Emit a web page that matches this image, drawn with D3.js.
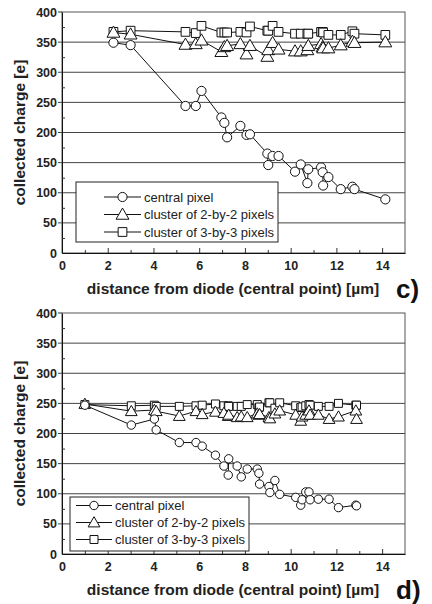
<!DOCTYPE html>
<html>
<head>
<meta charset="utf-8">
<script src="https://cdn.jsdelivr.net/npm/d3@7"></script>
<style>
  body { margin: 0; background: #fff; }
  svg { display: block; font-family: "Liberation Sans", Arial, sans-serif; }
</style>
</head>
<body>
<div id="chart"></div>
<script>
// panel c)
const distC = [2.25, 3.0, 5.4, 5.85, 6.1, 6.97, 7.1, 7.22, 7.8, 8.07, 8.22, 8.98, 9.02, 9.21, 9.47, 10.19, 10.44, 10.73, 10.77, 11.33, 11.4, 11.42, 11.65, 12.19, 12.7, 12.79, 14.14];
const centralC = [349, 345, 244, 244, 269, 225, 216, 192, 211, 196, 197, 165, 146, 161, 161, 135, 147, 116, 139, 142, 134, 112, 126, 106, 110, 106, 89];
const cluster2C = [366, 363, 346, 347, 353, 334, 342, 344, 347, 330, 344, 326, 337, 349, 338, 335, 335, 337, 344, 347, 342, 340, 340, 345, 351, 349, 350];
const cluster3C = [367, 369, 367, 365, 377, 366, 366, 366, 367, 366, 376, 369, 369, 377, 367, 364, 364, 364, 364, 367, 367, 366, 362, 362, 368, 364, 362];

// panel d)
const distD = [1.0, 3.03, 4.04, 4.12, 5.13, 5.86, 6.13, 6.71, 7.08, 7.27, 7.29, 7.66, 7.84, 8.1, 8.54, 8.61, 8.64, 9.05, 9.09, 9.31, 9.52, 10.22, 10.44, 10.5, 10.66, 10.8, 10.85, 11.21, 11.68, 12.09, 12.85, 12.88];
const centralD = [247, 214, 224, 206, 185, 185, 179, 164, 146, 131, 158, 146, 128, 141, 141, 134, 116, 112, 102, 122, 99, 94, 81, 90, 103, 103, 90, 91, 91, 77, 81, 80];
const cluster2D = [249, 237, 239, 237, 229, 237, 232, 236, 234, 229, 231, 227, 228, 227, 233, 231, 232, 227, 225, 233, 238, 231, 221, 228, 231, 238, 231, 231, 224, 228, 238, 224];
const cluster3D = [248, 246, 247, 245, 245, 246, 247, 249, 246, 246, 245, 245, 245, 248, 248, 243, 244, 251, 251, 242, 251, 246, 243, 244, 246, 248, 247, 245, 245, 250, 247, 247];

const seriesNames = ['central pixel', 'cluster of 2-by-2 pixels', 'cluster of 3-by-3 pixels'];
const xTicks = [0, 2, 4, 6, 8, 10, 12, 14];
const yTicks = [0, 50, 100, 150, 200, 250, 300, 350, 400];

const W = 432, H = 604;
const svg = d3.select('#chart').append('svg').attr('width', W).attr('height', H);

const drawPanel = (cfg) => {
  const x = d3.scaleLinear().domain([0, 15]).range([62, 405]);
  const y = d3.scaleLinear().domain([0, 400]).range([cfg.bottom, cfg.top]);
  const g = svg.append('g');

  // grid
  g.selectAll('.grid')
    .data(yTicks.filter(v => v > 0 && v < 400))
    .enter().append('line')
    .attr('x1', x(0) - 4).attr('x2', x(15))
    .attr('y1', d => y(d)).attr('y2', d => y(d))
    .attr('stroke', '#444').attr('stroke-width', 1);

  // frame
  g.append('rect')
    .attr('x', x(0)).attr('y', y(400))
    .attr('width', x(15) - x(0)).attr('height', y(0) - y(400))
    .attr('fill', 'none').attr('stroke', '#555').attr('stroke-width', 1);
  g.append('line').attr('x1', x(0) - 4).attr('x2', x(0)).attr('y1', y(400)).attr('y2', y(400)).attr('stroke', '#333');

  // axes
  const yAxis = g.append('g').attr('transform', `translate(${x(0)},0)`)
    .call(d3.axisLeft(y).tickValues(yTicks).tickSize(0).tickPadding(5));
  yAxis.select('.domain').attr('stroke', '#111');
  yAxis.selectAll('text').attr('font-size', 12.5).attr('font-weight', 'bold').attr('fill', '#222');
  g.append('g').attr('transform', `translate(${x(0)},0)`)
    .call(d3.axisRight(y).tickValues(d3.range(25, 400, 50)).tickSize(3).tickFormat(''))
    .call(a => a.select('.domain').remove())
    .selectAll('line').attr('stroke', '#333');

  const xAxis = g.append('g').attr('transform', `translate(0,${y(0)})`)
    .call(d3.axisBottom(x).tickValues(xTicks).tickSize(0).tickPadding(8));
  xAxis.select('.domain').attr('stroke', '#111');
  xAxis.selectAll('text').attr('font-size', 12.5).attr('font-weight', 'bold').attr('fill', '#222');
  g.append('g').attr('transform', `translate(0,${y(0)})`)
    .call(d3.axisTop(x).tickValues(xTicks.slice(1)).tickSize(5).tickFormat(''))
    .call(a => a.select('.domain').remove())
    .selectAll('line').attr('stroke', '#333');
  g.append('g').attr('transform', `translate(0,${y(0)})`)
    .call(d3.axisTop(x).tickValues(d3.range(1, 15, 2)).tickSize(3).tickFormat(''))
    .call(a => a.select('.domain').remove())
    .selectAll('line').attr('stroke', '#333');

  // axis titles
  g.append('text')
    .attr('transform', `translate(25,${(y(0) + y(400)) / 2}) rotate(-90)`)
    .attr('text-anchor', 'middle')
    .attr('font-size', 15.5).attr('font-weight', 'bold').attr('fill', '#222')
    .text('collected charge [e]');
  g.append('text')
    .attr('x', 233).attr('y', y(0) + 41)
    .attr('text-anchor', 'middle')
    .attr('font-size', 15.5).attr('font-weight', 'bold').attr('fill', '#222')
    .text('distance from diode (central point) [\u00b5m]');
  g.append('text')
    .attr('x', 396).attr('y', y(0) + 45)
    .attr('font-size', 26).attr('font-weight', 'bold').attr('fill', '#111')
    .text(cfg.label);

  const symbols = [d3.symbolCircle, d3.symbolTriangle, d3.symbolSquare];
  const sizes = [cfg.mr * cfg.mr * Math.PI, cfg.mr * cfg.mr * 3.4, cfg.mr * cfg.mr * 3.6];
  const line = d3.line().x(d => x(d[0])).y(d => y(d[1]));

  // draw 3x3 first, then 2x2, then central on top
  [2, 1, 0].forEach(k => {
    const pts = cfg.dist.map((d, i) => [d, cfg.vals[k][i]]);
    g.append('path').datum(pts)
      .attr('fill', 'none').attr('stroke', '#111').attr('stroke-width', 1)
      .attr('d', line);
    g.selectAll(null).data(pts).enter().append('path')
      .attr('transform', d => `translate(${x(d[0])},${y(d[1]) + (k === 1 ? 1 : 0)})`)
      .attr('d', d3.symbol().type(symbols[k]).size(sizes[k]))
      .attr('fill', '#fff').attr('stroke', '#111').attr('stroke-width', 1);
  });

  // legend
  const L = cfg.legend;
  const lg = g.append('g');
  lg.append('rect').attr('x', L.x).attr('y', L.y).attr('width', L.w).attr('height', L.h)
    .attr('fill', '#fff').attr('stroke', '#222').attr('stroke-width', 1);
  seriesNames.forEach((name, k) => {
    const cy = L.y + L.row0 + k * L.dy;
    lg.append('line').attr('x1', L.lx).attr('x2', L.lx + L.lw).attr('y1', cy).attr('y2', cy)
      .attr('stroke', '#111');
    lg.append('path')
      .attr('transform', `translate(${L.lx + L.lw / 2},${cy + (k === 1 ? 1 : 0)})`)
      .attr('d', d3.symbol().type(symbols[k]).size(sizes[k]))
      .attr('fill', '#fff').attr('stroke', '#111');
    lg.append('text').attr('x', L.lx + L.lw + 3).attr('y', cy + 4.5)
      .attr('font-size', 13).attr('fill', '#222').text(name);
  });
};

drawPanel({
  top: 12, bottom: 253, label: 'c)', mr: 4.6,
  dist: distC, vals: [centralC, cluster2C, cluster3C],
  legend: { x: 76, y: 182, w: 202, h: 60, row0: 15, dy: 17.5, lx: 104, lw: 37 }
});
drawPanel({
  top: 313, bottom: 554, label: 'd)', mr: 4.2,
  dist: distD, vals: [centralD, cluster2D, cluster3D],
  legend: { x: 70, y: 497, w: 179, h: 54, row0: 8.5, dy: 17, lx: 76, lw: 36 }
});
</script>
</body>
</html>
